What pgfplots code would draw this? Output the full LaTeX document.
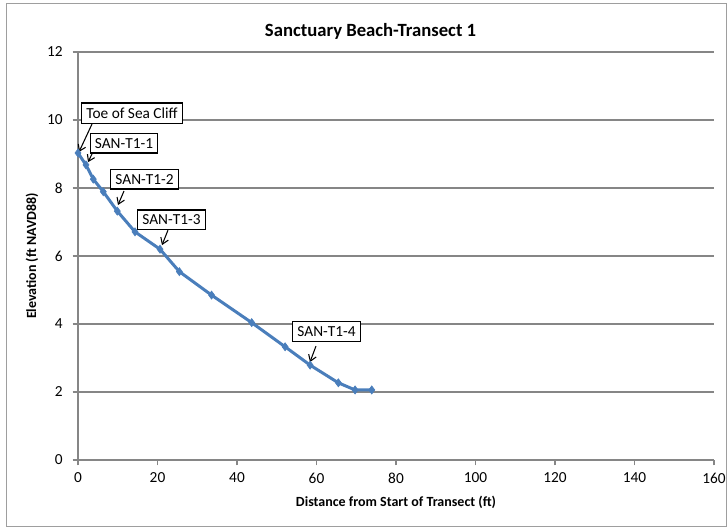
\documentclass[border=0pt]{standalone}
\usepackage{pgfplots}
\pgfplotsset{compat=1.18}
\usepackage{fontspec}
\setmainfont{Carlito}
\usetikzlibrary{arrows.meta}
\definecolor{exblue}{HTML}{4A7EBB}
\definecolor{exgray}{HTML}{868686}

\begin{document}
\begin{tikzpicture}[x=0.75pt,y=0.75pt]
% page = 728 x 531 px, 1px = 0.75pt, origin at the axis' lower left corner
\useasboundingbox (-78,-71) rectangle (650,460);
\draw[exgray!80, line width=0.75pt] (-71,-67) rectangle (648,456);
\begin{axis}[
    name=plot,
    at={(0,0)}, anchor=south west,
    scale only axis,
    width=477pt, height=306pt,
    xmin=0, xmax=160, ymin=0, ymax=12,
    xtick={0,20,...,160},
    ytick={0,2,...,12},
    axis x line*=bottom,
    axis y line*=left,
    axis line style={exgray, line width=1.4pt},
    ymajorgrids,
    grid style={exgray, line width=1.4pt},
    tick style={exgray, line width=1.1pt},
    major tick length=4pt,
    tick align=outside,
    ticklabel style={font=\fontsize{11.5}{13}\selectfont, text=black},
    yticklabel style={xshift=-4pt},
    xticklabel style={yshift=-2pt},
    /pgf/number format/assume math mode=true,
    title={Sanctuary Beach-Transect 1},
    title style={font=\bfseries\fontsize{14}{16}\selectfont,
        at={(axis description cs:0.46,1.032)}, anchor=center},
    xlabel={Distance from Start of Transect (ft)},
    ylabel={Elevation (ft NAVD88)},
    label style={font=\bfseries\fontsize{10.5}{12}\selectfont},
    xlabel style={at={(axis description cs:0.5,-0.103)}, anchor=center},
    ylabel style={at={(axis description cs:-0.0723,0.5)}, anchor=center},
    clip=false,
]
\addplot[exblue, line width=2.25pt, mark=diamond*, mark size=3pt,
    mark options={fill=exblue, draw=exblue, line width=0.5pt}]
    table {
    x     y
    0     9.03
    2.0   8.68
    3.85  8.26
    6.37  7.89
    9.89  7.32
    14.34 6.71
    20.63 6.20
    25.5  5.54
    33.6  4.85
    43.7  4.04
    52.1  3.33
    58.4  2.79
    65.5  2.27
    69.7  2.06
    73.9  2.06
    };

\tikzset{callout/.style={draw=black, fill=white, line width=1pt,
    inner xsep=3.5pt, inner ysep=3.5pt, font=\fontsize{11.5}{13}\selectfont},
    pointer/.style={black, line width=0.8pt, -{Straight Barb[length=4.5pt,width=6pt]}}}
\draw[pointer] (axis cs:3.52,9.88) -- (axis cs:0.25,9.06);
\node[callout] at (axis cs:13.6,10.2) {Toe of Sea Cliff};
\draw[pointer] (axis cs:3.77,9.06) -- (axis cs:2.52,8.76);
\node[callout] at (axis cs:11.57,9.31) {SAN-T1-1};
\draw[pointer] (axis cs:11.57,7.91) -- (axis cs:10.06,7.5);
\node[callout] at (axis cs:16.73,8.26) {SAN-T1-2};
\draw[pointer] (axis cs:22.64,6.76) -- (axis cs:21.13,6.32);
\node[callout] at (axis cs:23.52,7.07) {SAN-T1-3};
\draw[pointer] (axis cs:59.87,3.35) -- (axis cs:58.36,2.88);
\node[callout] at (axis cs:62.52,3.78) {SAN-T1-4};
\end{axis}
\end{tikzpicture}
\end{document}
